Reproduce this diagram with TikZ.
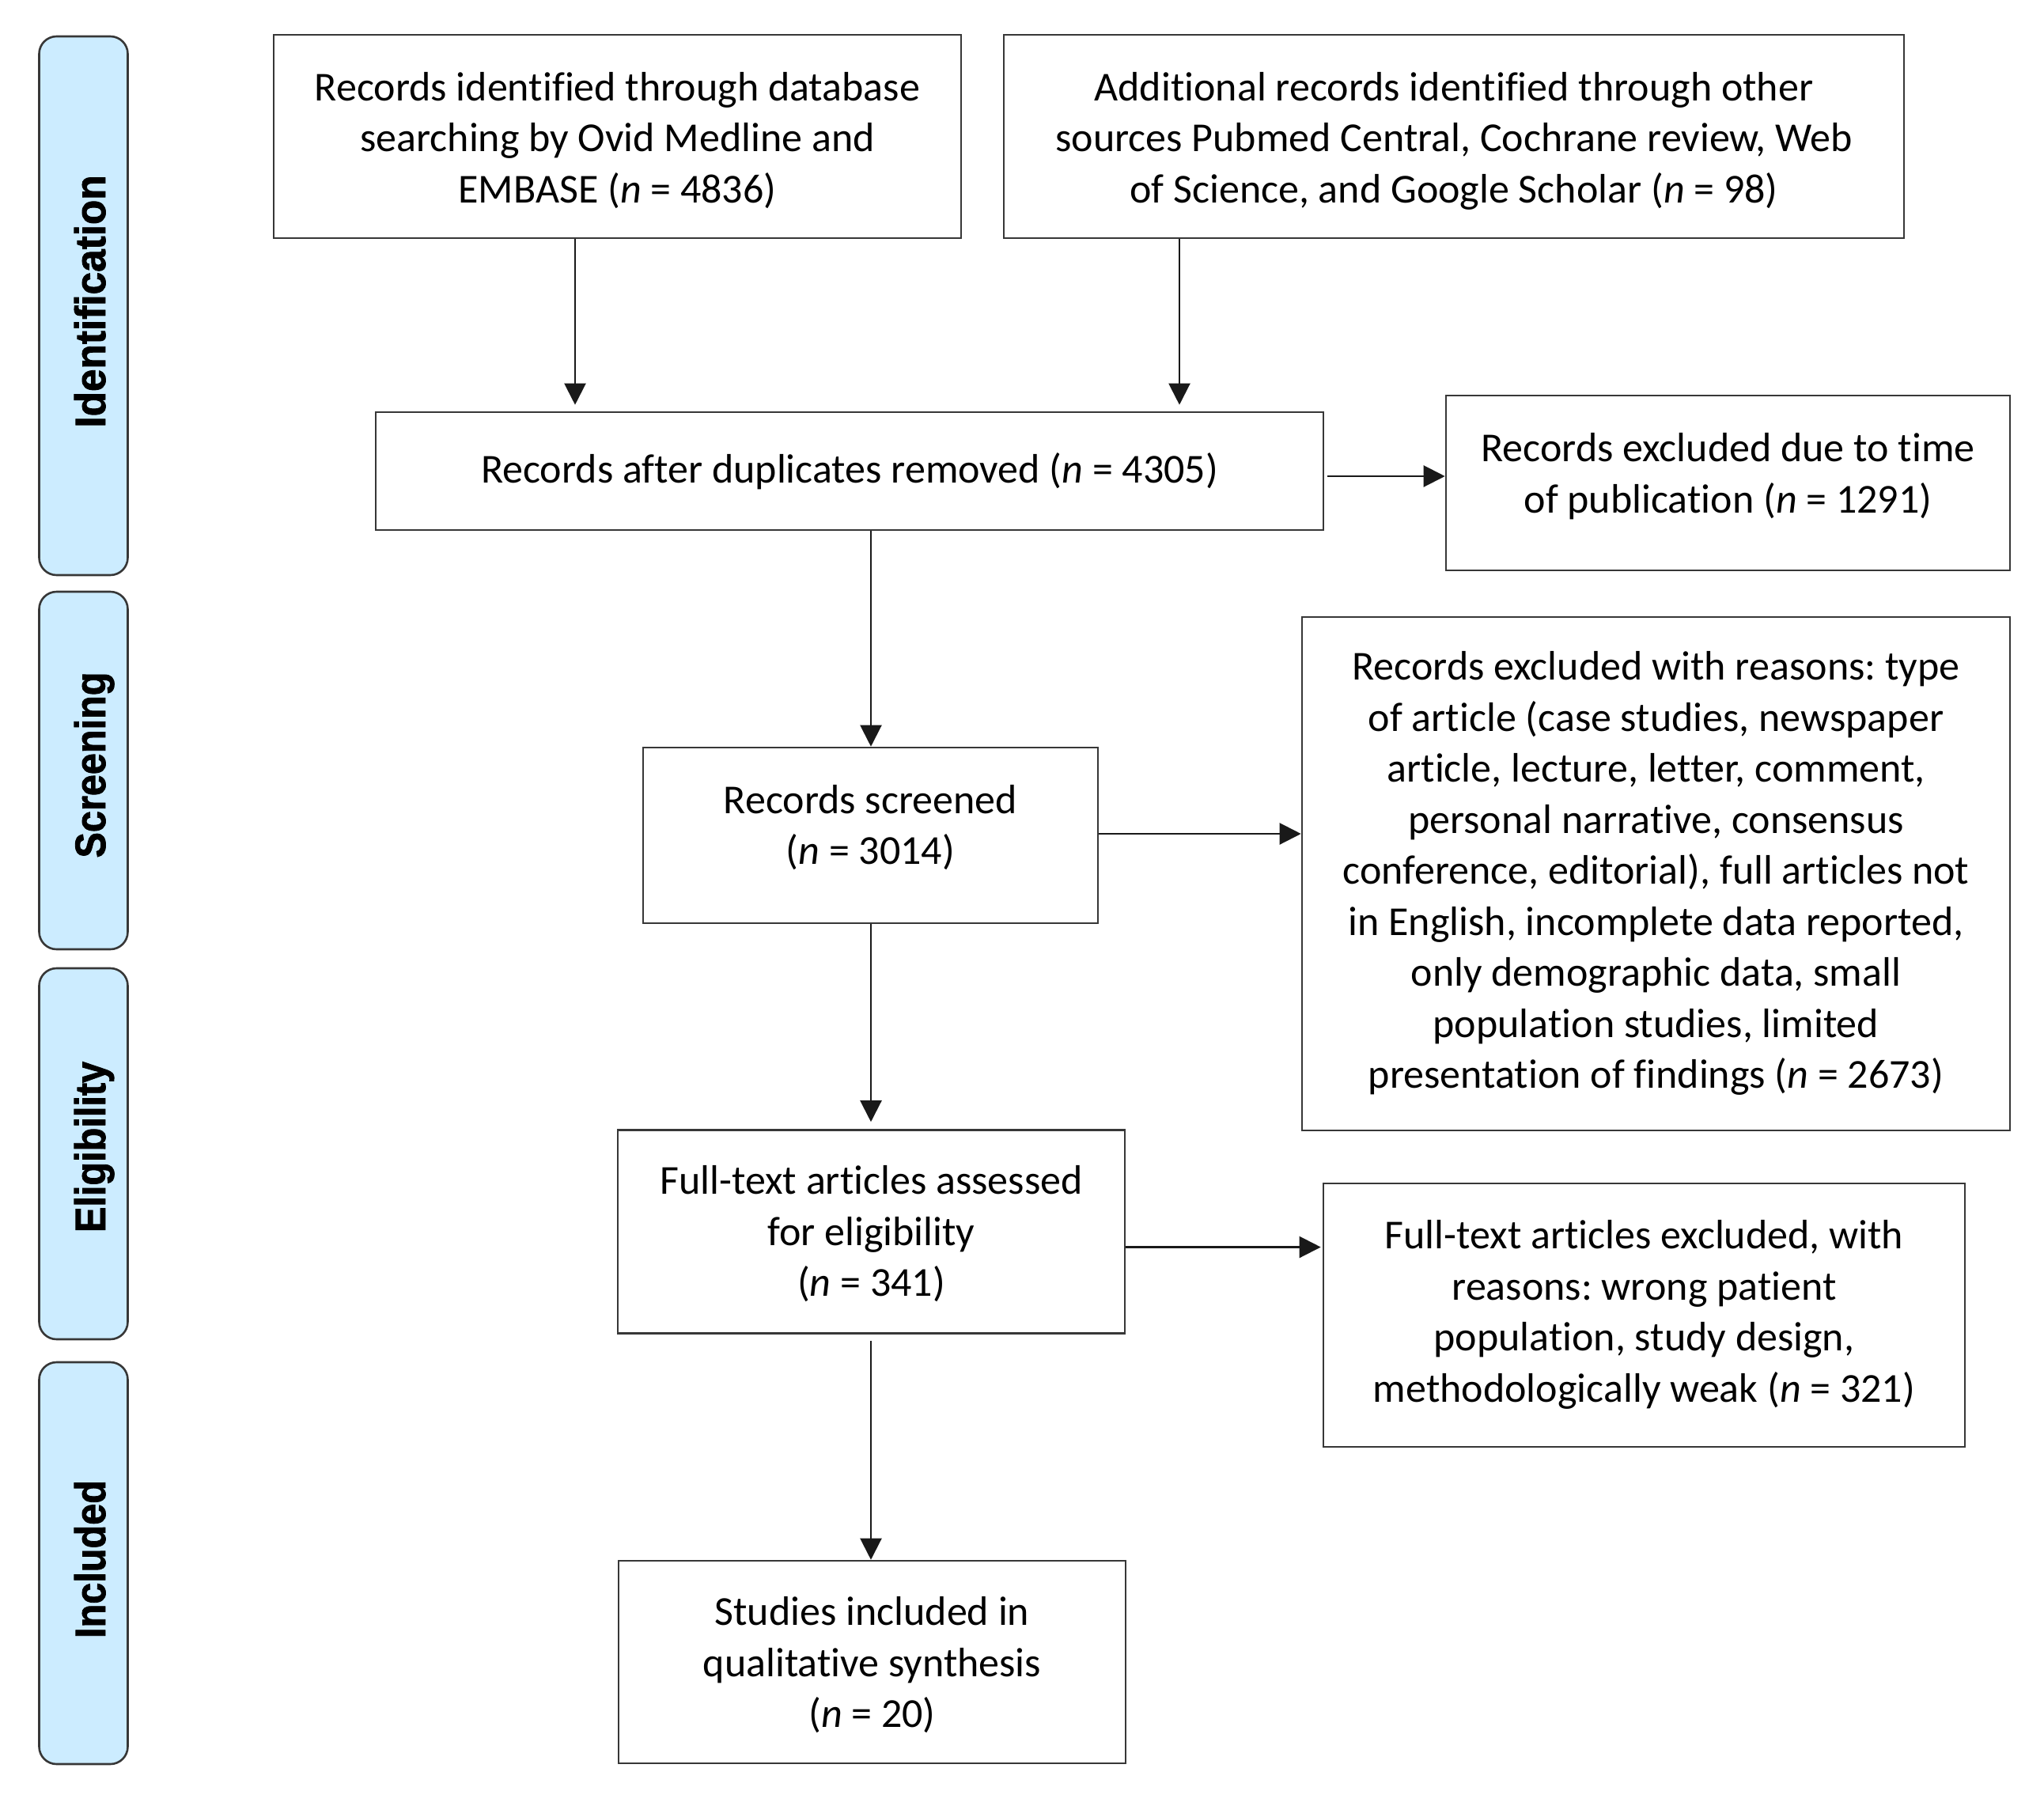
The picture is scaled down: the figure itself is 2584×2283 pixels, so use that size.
\documentclass[tikz,border=0pt]{standalone}
\usepackage{fontspec}
\setmainfont{Carlito}[Ligatures={NoCommon}]
\newfontfamily\lblfont{Liberation Sans}[Ligatures={NoCommon},BoldFeatures={FakeBold=1.6}]
\usetikzlibrary{arrows.meta,calc}
\definecolor{lblfill}{RGB}{204,236,255}
\definecolor{edgecol}{RGB}{55,55,55}
\newcommand{\topS}[1]{\rule{0pt}{#1pt}}
\newcommand{\botS}[1]{\rule[-#1pt]{0pt}{#1pt}}
\frenchspacing
\begin{document}
\frenchspacing
\begin{tikzpicture}[x=1pt,y=-1pt,
  box/.style={draw=edgecol, line width=2.6pt, align=center, inner sep=0pt,
    font=\fontsize{52}{64.5}\selectfont\frenchspacing, text=black},
  lbl/.style={draw=edgecol, line width=2.6pt, fill=lblfill, rounded corners=22pt, inner sep=0pt},
  lbltext/.style={rotate=90, anchor=base, inner sep=0pt,
    font=\lblfont\bfseries\fontsize{54}{60}\selectfont},
  arr/.style={draw=black!90, line width=2.2pt, -{Triangle[length=27pt,width=27pt]}}]
\useasboundingbox (0,0) rectangle (2584,2283);

% phase labels
\node[lbl, minimum width=112pt, minimum height=681pt] (L1) at (105.5,386.5) {};
\node[lbl, minimum width=112pt, minimum height=452pt] (L2) at (105.5,974) {};
\node[lbl, minimum width=112pt, minimum height=469pt] (L3) at (105.5,1458.5) {};
\node[lbl, minimum width=112pt, minimum height=508pt] (L4) at (105.5,1976) {};
\node[lbltext] (T1) at (133,381) {\scalebox{0.95}[1]{Identification}};
\node[lbltext] (T2) at (133,967) {\scalebox{0.9}[1]{Screening}};
\node[lbltext] (T3) at (133,1450) {\scalebox{0.9}[1]{Eligibility}};
\node[lbltext] (T4) at (133,1971) {\scalebox{0.9}[1]{Included}};

% boxes
\node[box, minimum width=869pt, minimum height=257pt] (A) at (780.5,172.5)
  {\topS{52}Records identified through database\\searching by Ovid Medline and\\EMBASE (\textit{n} = 4836)\botS{14}};
\node[box, minimum width=1138pt, minimum height=257pt] (B) at (1838,172.5)
  {\topS{52}Additional records identified through other\\sources Pubmed Central, Cochrane review, Web\\of Science, and Google Scholar (\textit{n} = 98)\botS{14}};
\node[box, minimum width=1198pt, minimum height=149pt] (C) at (1074,595.5)
  {\topS{44}Records after duplicates removed (\textit{n} = 4305)\botS{14}};
\node[box, minimum width=713pt, minimum height=221pt] (D) at (2184.5,610.5)
  {\topS{40}Records excluded due to time\\of publication (\textit{n} = 1291)\botS{29}};
\node[box, minimum width=575pt, minimum height=222pt] (E) at (1100.5,1056)
  {\topS{40}Records screened\\(\textit{n} = 3014)\botS{31}};
\node[box, minimum width=895pt, minimum height=649pt] (F) at (2093.5,1104.5)
  {\topS{40}Records excluded with reasons: type\\of article (case studies, newspaper\\article, lecture, letter, comment,\\personal narrative, consensus\\conference, editorial), full articles not\\in English, incomplete data reported,\\only demographic data, small\\population studies, limited\\presentation of findings (\textit{n} = 2673)\botS{14}};
\node[box, minimum width=641pt, minimum height=257pt] (G) at (1101.5,1557)
  {\topS{48}Full-text articles assessed\\for eligibility\\(\textit{n} = 341)\botS{14}};
\node[box, minimum width=811pt, minimum height=333pt] (H) at (2078.5,1662.5)
  {\topS{40}Full-text articles excluded, with\\reasons: wrong patient\\population, study design,\\methodologically weak (\textit{n} = 321)\botS{14}};
\node[box, minimum width=641pt, minimum height=256pt] (I) at (1102.5,2101)
  {\topS{50}Studies included in\\qualitative synthesis\\(\textit{n} = 20)\botS{14}};

% connector guides
\coordinate (xa) at (727,0);
\coordinate (xb) at (1491,0);
\coordinate (xm) at (1101,0);
\coordinate (ycd) at (0,602);
\coordinate (yef) at (0,1054);
\coordinate (ygh) at (0,1576.5);

\draw[arr, shorten >=8pt] (A.south -| xa) -- (C.north -| xa);
\draw[arr, shorten >=8pt] (B.south -| xb) -- (C.north -| xb);
\draw[arr, shorten <=4pt] (C.east |- ycd) -- (D.west |- ycd);
\draw[arr] (C.south -| xm) -- (E.north -| xm);
\draw[arr] (E.east |- yef) -- (F.west |- yef);
\draw[arr, shorten >=9pt] (E.south -| xm) -- (G.north -| xm);
\draw[arr, shorten >=2pt] (G.east |- ygh) -- (H.west |- ygh);
\draw[arr, shorten <=8pt] (G.south -| xm) -- (I.north -| xm);
\end{tikzpicture}
\end{document}
